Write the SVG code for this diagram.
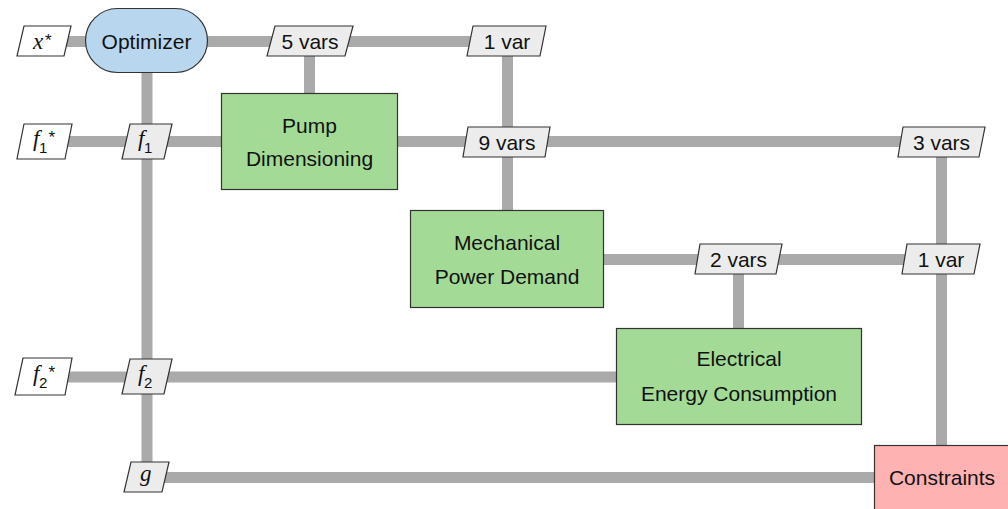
<svg xmlns="http://www.w3.org/2000/svg" width="1008" height="509" viewBox="0 0 1008 509">
<style>
.ln{stroke:#aaaaaa;stroke-width:11;fill:none;stroke-linecap:butt}
.box{stroke:#333333;stroke-width:1.2}
.fn{fill:#a3db96}
.opt{fill:#b9d6ef}
.con{fill:#ffb2b2}
.dat{fill:#ececec;stroke:#333333;stroke-width:1.2}
.inp{fill:#ffffff;stroke:#333333;stroke-width:1.2}
.t{font-family:"Liberation Sans",Arial,sans-serif;font-size:21px;fill:#111111;text-anchor:middle}
.m{font-family:"Liberation Serif","Times New Roman",serif;font-style:italic;font-size:23px;fill:#111111;text-anchor:start}
.sub{font-family:"Liberation Sans",Arial,sans-serif;font-style:normal;font-size:15px}
.star{font-family:"Liberation Sans",Arial,sans-serif;font-style:normal;font-size:17px}
</style>
<rect width="1008" height="509" fill="#ffffff"/>
<g id="connectors">
<line class="ln" x1="60" y1="41.5" x2="500" y2="41.5"/>
<line class="ln" x1="147" y1="41" x2="147" y2="477"/>
<line class="ln" x1="309.5" y1="41" x2="309.5" y2="94"/>
<line class="ln" x1="507.5" y1="41" x2="507.5" y2="211"/>
<line class="ln" x1="60" y1="141.5" x2="941" y2="141.5"/>
<line class="ln" x1="941.5" y1="141" x2="941.5" y2="446"/>
<line class="ln" x1="603" y1="259.5" x2="941" y2="259.5"/>
<line class="ln" x1="738.5" y1="259" x2="738.5" y2="329"/>
<line class="ln" x1="60" y1="377" x2="617" y2="377"/>
<line class="ln" x1="147" y1="477.5" x2="875" y2="477.5"/>
</g>
<g id="x_star">
<polygon class="inp" points="24,26 71,26 64,56 17,56"/>
<text class="m" x="33" y="49">x<tspan class="star" x="45" y="46">*</tspan></text>
</g>
<g id="optimizer">
<rect class="box opt" x="85.5" y="8.5" width="122" height="64" rx="32" ry="32"/>
<text class="t" x="146.5" y="48.5">Optimizer</text>
</g>
<g id="d_5vars">
<polygon class="dat" points="275,26 353,26 345,56 267,56"/>
<text class="t" x="310" y="49">5 vars</text>
</g>
<g id="d_1var_top">
<polygon class="dat" points="473,26 546,26 540,56 467,56"/>
<text class="t" x="507" y="49">1 var</text>
</g>
<g id="f1_star">
<polygon class="inp" points="24,124 72,124 65,159 17,159"/>
<text class="m" x="33" y="146">f<tspan class="sub" x="39" y="153">1</tspan><tspan class="star" x="48.5" y="143">*</tspan></text>
</g>
<g id="f1">
<polygon class="dat" points="130,124 172,124 164,159 122,159"/>
<text class="m" x="138" y="146">f<tspan class="sub" x="144" y="153">1</tspan></text>
</g>
<g id="pump">
<rect class="box fn" x="221.5" y="93.5" width="176" height="96"/>
<text class="t" x="309.5" y="133">Pump</text>
<text class="t" x="309.5" y="166">Dimensioning</text>
</g>
<g id="d_9vars">
<polygon class="dat" points="468,127 550,127 545,157 463,157"/>
<text class="t" x="507" y="150">9 vars</text>
</g>
<g id="d_3vars">
<polygon class="dat" points="903,127 985,127 979,157 898,157"/>
<text class="t" x="941.5" y="150">3 vars</text>
</g>
<g id="mechanical">
<rect class="box fn" x="410.5" y="210.5" width="193" height="97"/>
<text class="t" x="507" y="250">Mechanical</text>
<text class="t" x="507" y="284">Power Demand</text>
</g>
<g id="d_2vars">
<polygon class="dat" points="700,244 782,244 776,274 695,274"/>
<text class="t" x="738.5" y="267">2 vars</text>
</g>
<g id="d_1var_r3">
<polygon class="dat" points="907,244 980,244 974,274 902,274"/>
<text class="t" x="941" y="267">1 var</text>
</g>
<g id="f2_star">
<polygon class="inp" points="23,358 72,358 65,395 15,395"/>
<text class="m" x="33" y="381">f<tspan class="sub" x="39" y="388">2</tspan><tspan class="star" x="48.5" y="378">*</tspan></text>
</g>
<g id="f2">
<polygon class="dat" points="130,359 172,359 164,394 122,394"/>
<text class="m" x="138" y="381">f<tspan class="sub" x="144" y="388">2</tspan></text>
</g>
<g id="electrical">
<rect class="box fn" x="616.5" y="328.5" width="245" height="96"/>
<text class="t" x="739" y="366">Electrical</text>
<text class="t" x="739" y="401">Energy Consumption</text>
</g>
<g id="g_out">
<polygon class="dat" points="131,462 169,462 162,492 124,492"/>
<text class="m" x="140" y="481">g</text>
</g>
<g id="constraints">
<rect class="box con" x="874.5" y="445.5" width="136" height="70"/>
<text class="t" x="942" y="485">Constraints</text>
</g>
</svg>
